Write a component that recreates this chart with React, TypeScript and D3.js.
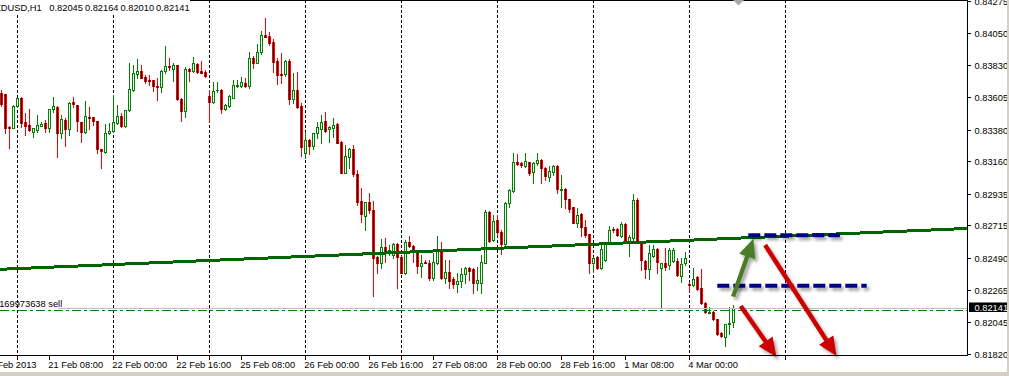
import React from "react";
import * as d3 from "d3";

// ---- DATA -------------------------------------------------------------
// NZDUSD H1; bar index 0 = 21 Feb 2013 00:00 (weekend skipped)
const FIRST_BAR = -4;
// [open, high, low, close]
const candles: [number, number, number, number][] = [
  [0.83633,0.83656,0.83545,0.83557],[0.83626,0.83626,0.83359,0.83390],[0.83401,0.83406,0.83251,0.83395],[0.83394,0.83552,0.83390,0.83545],
  [0.83545,0.83603,0.83538,0.83598],[0.83603,0.83607,0.83401,0.83429],[0.83434,0.83494,0.83343,0.83408],[0.83411,0.83524,0.83373,0.83378],
  [0.83366,0.83392,0.83327,0.83392],[0.83378,0.83482,0.83362,0.83413],[0.83408,0.83436,0.83406,0.83420],[0.83427,0.83447,0.83362,0.83394],
  [0.83394,0.83526,0.83362,0.83524],[0.83526,0.83605,0.83505,0.83545],[0.83540,0.83545,0.83192,0.83359],[0.83355,0.83482,0.83324,0.83456],
  [0.83447,0.83459,0.83269,0.83383],[0.83383,0.83571,0.83343,0.83564],[0.83575,0.83605,0.83536,0.83561],[0.83550,0.83552,0.83373,0.83438],
  [0.83431,0.83436,0.83297,0.83366],[0.83366,0.83582,0.83359,0.83473],[0.83466,0.83540,0.83383,0.83459],[0.83466,0.83466,0.83413,0.83440],
  [0.83440,0.83440,0.83220,0.83244],[0.83246,0.83246,0.83116,0.83234],[0.83227,0.83420,0.83218,0.83359],[0.83355,0.83424,0.83350,0.83369],
  [0.83373,0.83621,0.83367,0.83431],[0.83424,0.83550,0.83420,0.83475],[0.83475,0.83498,0.83399,0.83406],[0.83406,0.83517,0.83399,0.83517],
  [0.83517,0.83842,0.83510,0.83663],[0.83656,0.83830,0.83651,0.83772],[0.83767,0.83870,0.83737,0.83786],[0.83790,0.83830,0.83737,0.83742],
  [0.83749,0.83757,0.83707,0.83717],[0.83723,0.83760,0.83691,0.83721],[0.83723,0.83729,0.83651,0.83684],[0.83684,0.83737,0.83586,0.83675],
  [0.83679,0.83795,0.83644,0.83786],[0.83786,0.83962,0.83774,0.83821],[0.83823,0.83876,0.83795,0.83814],[0.83804,0.83842,0.83721,0.83828],
  [0.83828,0.83833,0.83586,0.83591],[0.83591,0.83597,0.83442,0.83512],[0.83512,0.83818,0.83470,0.83800],[0.83800,0.83806,0.83721,0.83790],
  [0.83790,0.83888,0.83783,0.83842],[0.83837,0.83842,0.83776,0.83783],[0.83788,0.83858,0.83772,0.83774],[0.83783,0.83795,0.83749,0.83756],
  [0.83612,0.83656,0.83436,0.83571],[0.83575,0.83714,0.83569,0.83651],[0.83654,0.83714,0.83642,0.83656],[0.83656,0.83663,0.83498,0.83526],
  [0.83524,0.83559,0.83517,0.83550],[0.83545,0.83621,0.83538,0.83614],[0.83603,0.83726,0.83597,0.83691],[0.83686,0.83726,0.83677,0.83691],
  [0.83686,0.83749,0.83679,0.83710],[0.83703,0.83737,0.83675,0.83686],[0.83684,0.83922,0.83668,0.83876],[0.83881,0.83893,0.83807,0.83846],
  [0.83846,0.83974,0.83842,0.83922],[0.83922,0.84066,0.83906,0.84039],[0.84039,0.84159,0.84023,0.84027],[0.84032,0.84057,0.83969,0.83985],
  [0.83988,0.84009,0.83783,0.83853],[0.83858,0.83881,0.83698,0.83760],[0.83767,0.83911,0.83707,0.83758],[0.83767,0.83865,0.83753,0.83860],
  [0.83858,0.83870,0.83557,0.83591],[0.83591,0.83776,0.83564,0.83656],[0.83656,0.83783,0.83529,0.83540],[0.83545,0.83564,0.83197,0.83262],
  [0.83220,0.83366,0.83181,0.83308],[0.83308,0.83315,0.83211,0.83267],[0.83269,0.83359,0.83246,0.83355],[0.83355,0.83436,0.83320,0.83399],
  [0.83385,0.83482,0.83290,0.83431],[0.83440,0.83501,0.83367,0.83373],[0.83383,0.83406,0.83297,0.83399],[0.83394,0.83463,0.83327,0.83413],
  [0.83420,0.83429,0.83285,0.83290],[0.83297,0.83301,0.83077,0.83081],[0.83081,0.83274,0.83077,0.83199],[0.83192,0.83253,0.83112,0.83246],
  [0.83246,0.83274,0.83060,0.83070],[0.83072,0.83100,0.82856,0.82879],[0.82884,0.82972,0.82736,0.82792],[0.82782,0.82879,0.82682,0.82875],
  [0.82875,0.82938,0.82799,0.82821],[0.82821,0.82886,0.82223,0.82490],[0.82497,0.82502,0.82381,0.82451],[0.82455,0.82618,0.82416,0.82566],
  [0.82566,0.82625,0.82462,0.82538],[0.82538,0.82578,0.82509,0.82543],[0.82509,0.82590,0.82486,0.82585],[0.82585,0.82590,0.82277,0.82493],
  [0.82493,0.82502,0.82381,0.82385],[0.82381,0.82613,0.82376,0.82599],[0.82599,0.82641,0.82566,0.82571],[0.82571,0.82578,0.82462,0.82538],
  [0.82531,0.82538,0.82381,0.82434],[0.82434,0.82509,0.82358,0.82451],[0.82460,0.82474,0.82451,0.82455],[0.82455,0.82474,0.82335,0.82351],
  [0.82351,0.82524,0.82335,0.82462],[0.82455,0.82641,0.82449,0.82543],[0.82548,0.82601,0.82345,0.82351],[0.82351,0.82474,0.82312,0.82388],
  [0.82388,0.82474,0.82277,0.82328],[0.82340,0.82358,0.82277,0.82305],[0.82305,0.82381,0.82253,0.82328],[0.82330,0.82416,0.82288,0.82374],
  [0.82374,0.82423,0.82312,0.82416],[0.82416,0.82422,0.82335,0.82397],[0.82409,0.82416,0.82242,0.82312],[0.82312,0.82423,0.82265,0.82335],
  [0.82312,0.82509,0.82242,0.82458],[0.82455,0.82821,0.82451,0.82810],[0.82810,0.82815,0.82601,0.82606],[0.82613,0.82787,0.82608,0.82747],
  [0.82752,0.82787,0.82648,0.82671],[0.82671,0.82682,0.82513,0.82585],[0.82583,0.82879,0.82578,0.82872],[0.82868,0.82965,0.82840,0.82961],
  [0.82954,0.83216,0.82949,0.83153],[0.83153,0.83211,0.83134,0.83144],[0.83146,0.83153,0.83123,0.83134],[0.83130,0.83216,0.83118,0.83162],
  [0.83153,0.83157,0.83065,0.83077],[0.83088,0.83153,0.83011,0.83146],[0.83146,0.83216,0.83134,0.83169],[0.83169,0.83174,0.83007,0.83112],
  [0.83112,0.83118,0.83030,0.83058],[0.83053,0.83128,0.83025,0.83093],[0.83084,0.83134,0.83065,0.83130],[0.83128,0.83134,0.82938,0.82965],
  [0.82959,0.83065,0.82840,0.82965],[0.82965,0.82971,0.82833,0.82896],[0.82896,0.82901,0.82810,0.82828],[0.82840,0.82844,0.82729,0.82733],
  [0.82733,0.82833,0.82705,0.82787],[0.82792,0.82799,0.82641,0.82705],[0.82705,0.82752,0.82636,0.82648],[0.82653,0.82658,0.82385,0.82451],
  [0.82451,0.82497,0.82392,0.82490],[0.82497,0.82502,0.82409,0.82416],[0.82416,0.82590,0.82409,0.82550],[0.82474,0.82601,0.82469,0.82597],
  [0.82590,0.82710,0.82585,0.82682],[0.82689,0.82705,0.82671,0.82682],[0.82689,0.82694,0.82641,0.82648],[0.82641,0.82740,0.82636,0.82724],
  [0.82724,0.82729,0.82606,0.82613],[0.82608,0.82648,0.82502,0.82636],[0.82629,0.82933,0.82613,0.82891],[0.82891,0.82903,0.82594,0.82601],
  [0.82601,0.82606,0.82404,0.82474],[0.82467,0.82472,0.82346,0.82409],[0.82409,0.82578,0.82340,0.82520],[0.82502,0.82578,0.82497,0.82550],
  [0.82550,0.82555,0.82381,0.82462],[0.82416,0.82455,0.82147,0.82451],[0.82455,0.82555,0.82404,0.82423],[0.82439,0.82555,0.82409,0.82543],
  [0.82467,0.82555,0.82462,0.82543],[0.82467,0.82490,0.82362,0.82369],[0.82365,0.82486,0.82319,0.82444],[0.82451,0.82531,0.82439,0.82486],
  [0.82307,0.82323,0.82253,0.82298],[0.82300,0.82416,0.82293,0.82342],[0.82358,0.82362,0.82265,0.82270],[0.82277,0.82409,0.82171,0.82177],
  [0.82177,0.82182,0.82105,0.82110],[0.82107,0.82149,0.82105,0.82114],[0.82114,0.82119,0.82056,0.82061],[0.82061,0.82063,0.81952,0.81959],
  [0.81964,0.81973,0.81938,0.81945],[0.81940,0.82032,0.81876,0.82029],[0.82029,0.82149,0.81959,0.82038],[0.82045,0.82164,0.82010,0.82141],
];

const priceTicks = [0.84275,0.8405,0.8383,0.83605,0.8338,0.8316,0.82935,0.82715,0.8249,0.82265,0.82045,0.8182];
const timeLabels: { bar: number; text: string }[] = [
  { bar: -8, text: "20 Feb 2013" }, { bar: 8, text: "21 Feb 08:00" }, { bar: 24, text: "22 Feb 00:00" },
  { bar: 40, text: "22 Feb 16:00" }, { bar: 56, text: "25 Feb 08:00" }, { bar: 72, text: "26 Feb 00:00" },
  { bar: 88, text: "26 Feb 16:00" }, { bar: 104, text: "27 Feb 08:00" }, { bar: 120, text: "28 Feb 00:00" },
  { bar: 136, text: "28 Feb 16:00" }, { bar: 152, text: "1 Mar 08:00" }, { bar: 168, text: "4 Mar 00:00" },
];
const dayGridBars = [0, 24, 48, 72, 96, 120, 144, 168, 192];
const titleSymbol = "NZDUSD,H1";
const titleValues = ["0.82045", "0.82164", "0.82010", "0.82141"];
const bidPrice = 0.82141;
const orderPrice = 0.82125;
const orderLabel = "#169973638 sell";
const trendLine: [number, number][] = [[-4.375, 0.82409], [237.375, 0.82693]];
const levelLines = [
  { from: 182.7, to: 205.6, price: 0.82646 },
  { from: 174.95, to: 212.3, price: 0.82295 },
];
const arrows = [
  { from: [178.9, 0.82219], to: [184.0, 0.82623], color: "#4b7d27" },
  { from: [180.8, 0.82154], to: [189.75, 0.81799], color: "#cc0000" },
  { from: [186.9, 0.82578], to: [204.75, 0.81806], color: "#cc0000" },
];

// ---- LAYOUT -----------------------------------------------------------
const W = 1009, H = 376;
const PR = 967; // right edge of plot
const PB = 355; // bottom edge of plot
const FONT = "'Liberation Sans', Arial, sans-serif";
const FS = 9.3;

const x = d3.scaleLinear().domain([0, 24]).range([17.5, 113.5]);
const y = d3.scaleLinear().domain([0.8182, 0.84275]).range([354, 1]);
const ry = (p: number) => Math.round(y(p));

function arrowPoints(x0: number, y0: number, x1: number, y1: number) {
  const dx = x1 - x0, dy = y1 - y0;
  const len = Math.hypot(dx, dy);
  const ux = dx / len, uy = dy / len;
  const px = -uy, py = ux;
  const hl = 19, hw = 8.5, sw = 2.2;
  const bx = x1 - ux * hl, by = y1 - uy * hl;
  const pts = [
    [x0 + px * sw, y0 + py * sw], [bx + px * sw, by + py * sw], [bx + px * hw, by + py * hw],
    [x1, y1], [bx - px * hw, by - py * hw], [bx - px * sw, by - py * sw], [x0 - px * sw, y0 - py * sw],
  ];
  return pts.map((p) => p.join(",")).join(" ");
}

export default function App() {
  const green = "#008000";
  const red = "#ff0000";
  const bidY = ry(bidPrice) + 0.5;
  const orderY = ry(orderPrice) + 0.5;
  const tickBars = Array.from(new Set([...timeLabels.map((t) => t.bar), ...dayGridBars])).filter(
    (b) => x(b) >= 0 && x(b) <= PR
  );
  return (
    <svg width={W} height={H} style={{ position: "absolute", left: 0, top: 0, display: "block" }} fontFamily={FONT}>
      <defs>
        <filter id="shadow" filterUnits="userSpaceOnUse" x={0} y={0} width={W} height={H}>
          <feDropShadow dx="2.5" dy="3" stdDeviation="1.6" floodColor="#000" floodOpacity="0.35" />
        </filter>
      </defs>
      <rect x={0} y={0} width={W} height={H} fill="#fff" />
      {/* grid */}
      {dayGridBars.map((b) => (
        <line key={b} x1={x(b)} x2={x(b)} y1={0} y2={PB} stroke="#000" strokeDasharray="3,2" shapeRendering="crispEdges" />
      ))}
      {/* candles */}
      {candles.map(([o, h, l, c], i) => {
        const k = FIRST_BAR + i;
        const cx = x(k);
        const bull = c >= o;
        const top = ry(Math.max(o, c));
        const bot = ry(Math.min(o, c));
        const hi = ry(h), lo = ry(l);
        if (bull) {
          return (
            <g key={i} shapeRendering="crispEdges">
              <line x1={cx} x2={cx} y1={hi} y2={top} stroke={green} />
              <line x1={cx} x2={cx} y1={bot + 1} y2={lo + 1} stroke={green} />
              <rect x={cx - 1} y={top + 0.5} width={2} height={Math.max(bot - top, 0.01)} fill="#fff" stroke={green} />
            </g>
          );
        }
        return (
          <g key={i} shapeRendering="crispEdges">
            <line x1={cx} x2={cx} y1={hi} y2={lo + 1} stroke={red} />
            <rect x={cx - 1.5} y={top} width={3} height={Math.max(bot - top, 1) + 1} fill={red} />
            <line x1={cx} x2={cx} y1={top} y2={bot + 1} stroke="#000" />
          </g>
        );
      })}
      {/* trend line */}
      <line
        x1={x(trendLine[0][0])} y1={y(trendLine[0][1])} x2={x(trendLine[1][0])} y2={y(trendLine[1][1])}
        stroke="#006400" strokeWidth={3} shapeRendering="crispEdges"
      />
      {/* bid and order lines */}
      <line x1={58} x2={PR} y1={bidY} y2={bidY} stroke="#c0c0c0" shapeRendering="crispEdges" />
      <line x1={0} x2={PR} y1={orderY} y2={orderY} stroke={green} strokeDasharray="9,3,3,3" shapeRendering="crispEdges" />
      <text x={-6} y={307.3} fontSize={FS} fill="#000">{orderLabel}</text>
      {/* level lines */}
      <g filter="url(#shadow)">
        {levelLines.map((lv, i) => (
          <line key={i} x1={x(lv.from)} x2={x(lv.to)} y1={y(lv.price)} y2={y(lv.price)}
            stroke="#000088" strokeWidth={4} strokeDasharray="12,4" />
        ))}
      </g>
      {/* arrows */}
      <g filter="url(#shadow)">
        {arrows.map((a, i) => (
          <polygon key={i} points={arrowPoints(x(a.from[0]), y(a.from[1]), x(a.to[0]), y(a.to[1]))}
            fill={a.color} />
        ))}
      </g>
      {/* top frame + title */}
      <line x1={0} x2={PR} y1={0.5} y2={0.5} stroke="#000" shapeRendering="crispEdges" />
      <polygon points="733,0 744,0 738.5,5.5" fill="#a8a8a8" />
      <rect x={0} y={0} width={190} height={14} fill="#fff" />
      <text y={11.3} fontSize={FS} fill="#000">
        <tspan x={-11.6}>{titleSymbol}</tspan>
        {titleValues.map((v, i) => (
          <tspan key={i} x={49.3 + i * 35.6}>{v}</tspan>
        ))}
      </text>
      {/* axes */}
      <line x1={PR + 0.5} x2={PR + 0.5} y1={0} y2={PB + 1} stroke="#000" shapeRendering="crispEdges" />
      <line x1={0} x2={PR + 1} y1={PB + 0.5} y2={PB + 0.5} stroke="#000" shapeRendering="crispEdges" />
      {priceTicks.map((p) => {
        const ty = ry(p) + 0.5;
        return (
          <g key={p}>
            <line x1={PR} x2={PR + 4} y1={ty} y2={ty} stroke="#000" shapeRendering="crispEdges" />
            <text x={974.5} y={ty + 3.6} fontSize={FS} fill="#000">{p.toFixed(5)}</text>
          </g>
        );
      })}
      <rect x={969} y={302.5} width={38} height={9.5} fill="#000" />
      <text x={974.5} y={311} fontSize={FS} fill="#fff">{bidPrice.toFixed(5)}</text>
      {tickBars.map((b) => (
        <line key={b} x1={x(b)} x2={x(b)} y1={PB + 1} y2={PB + 5} stroke="#000" shapeRendering="crispEdges" />
      ))}
      {timeLabels.map((t) => (
        <text key={t.bar} x={x(t.bar) - 1.2} y={368.2} fontSize={FS} fill="#000">{t.text}</text>
      ))}
      {/* window edges */}
      <rect x={1007} y={0} width={2} height={H} fill="#d4d0c8" />
      <rect x={0} y={372} width={W} height={4} fill="#d4d0c8" />
    </svg>
  );
}
